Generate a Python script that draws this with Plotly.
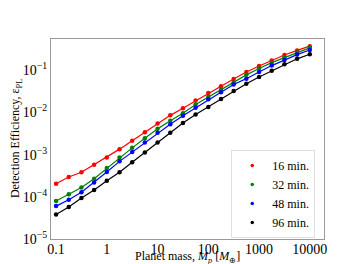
import numpy as np
import plotly.graph_objects as go

mass = [0.1, 0.178, 0.316, 0.562, 1, 1.78, 3.16, 5.62, 10, 17.8, 31.6, 56.2,
        100, 178, 316, 562, 1000, 1778, 3162, 5623, 10000]

log_eff_16 = [-3.69, -3.53, -3.42, -3.24, -3.07, -2.87, -2.67, -2.47, -2.26, -2.07, -1.90,
              -1.72, -1.54, -1.38, -1.21, -1.04, -0.90, -0.77, -0.64, -0.53, -0.43]
log_eff_32 = [-4.10, -3.94, -3.78, -3.57, -3.32, -3.07, -2.84, -2.61, -2.39, -2.20, -2.02,
              -1.81, -1.63, -1.46, -1.29, -1.11, -0.96, -0.82, -0.70, -0.58, -0.47]
log_eff_48 = [-4.22, -4.07, -3.89, -3.66, -3.41, -3.16, -2.94, -2.71, -2.48, -2.28, -2.08,
              -1.89, -1.69, -1.52, -1.34, -1.20, -1.04, -0.89, -0.76, -0.63, -0.52]
log_eff_96 = [-4.42, -4.24, -4.03, -3.84, -3.62, -3.42, -3.18, -2.95, -2.71, -2.48, -2.25,
              -2.05, -1.87, -1.68, -1.49, -1.32, -1.16, -1.01, -0.86, -0.73, -0.62]

series_names = ["16 min.", "32 min.", "48 min.", "96 min."]
series_colors = ["#ff0000", "#008000", "#0000ff", "#000000"]

x_tickvals = [0.1, 1, 10, 100, 1000, 10000]
x_ticktext = ["0.1", "1", "10", "100", "1000", "10000"]
y_tickvals = [1e-5, 1e-4, 1e-3, 1e-2, 1e-1]
y_ticktext = ["10<sup>\u22125</sup>", "10<sup>\u22124</sup>", "10<sup>\u22123</sup>",
              "10<sup>\u22122</sup>", "10<sup>\u22121</sup>"]
x_title = "Planet mass, <i>M<sub>p</sub></i> [<i>M</i><sub>\u2295</sub>]"
y_title = "Detection Efficiency, \u03b5<sub>PL</sub>"

fig = go.Figure()
for name, color, logs in zip(series_names, series_colors,
                             [log_eff_16, log_eff_32, log_eff_48, log_eff_96]):
    vals = [10 ** v for v in logs]
    fig.add_trace(go.Scatter(x=mass, y=vals, mode="lines+markers",
                             line=dict(color=color, width=1.2),
                             marker=dict(color=color, size=4.5),
                             showlegend=False))
    fig.add_trace(go.Scatter(x=[None], y=[None], mode="markers", name=name,
                             marker=dict(color=color, size=3.5)))

serif = "Liberation Serif, Times New Roman, serif"
axis_common = dict(showline=True, linecolor="#999999", linewidth=1, mirror=True,
                   showgrid=False, zeroline=False, ticks="", automargin=False,
                   tickfont=dict(family=serif, size=14, color="black"))

fig.update_layout(
    width=352, height=264,
    margin=dict(l=43, r=36, t=31, b=33),
    paper_bgcolor="white", plot_bgcolor="white",
    font=dict(family=serif, color="black"),
    xaxis=dict(type="log", range=[-1.1, 4.28], tickvals=x_tickvals, ticktext=x_ticktext,
               ticklabelstandoff=-3, **axis_common),
    yaxis=dict(type="log", range=[-5.0, -0.26], tickvals=y_tickvals, ticktext=y_ticktext,
               **axis_common),
    legend=dict(x=0.968, y=0.225, xanchor="right", yanchor="middle",
                bgcolor="white", bordercolor="#e0e0e0", borderwidth=1,
                font=dict(family=serif, size=12), itemwidth=30,
                tracegroupgap=0),
    annotations=[
        dict(text=x_title, xref="paper", yref="paper", x=0.5, y=-0.09,
             xanchor="center", yanchor="middle", showarrow=False,
             font=dict(family=serif, size=12)),
        dict(text=y_title, xref="paper", yref="paper", x=-0.128, y=0.5,
             xanchor="center", yanchor="middle", showarrow=False, textangle=-90,
             font=dict(family=serif, size=12)),
    ],
)

fig.write_html("out.html")
